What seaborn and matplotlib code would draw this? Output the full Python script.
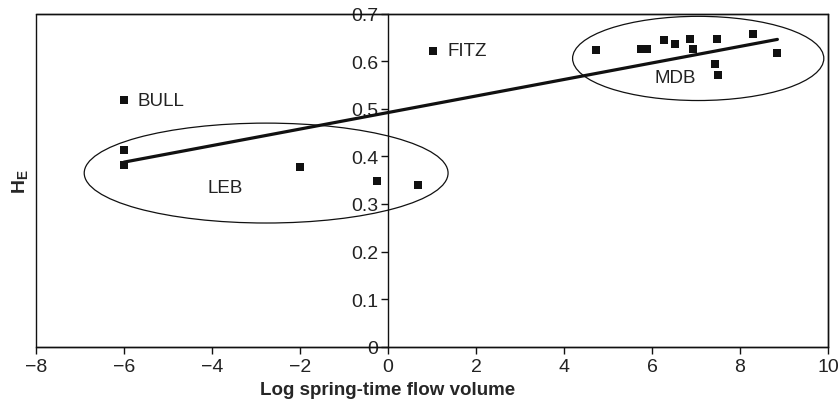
import numpy as np
import pandas as pd
import matplotlib
matplotlib.use("Agg")
import matplotlib.pyplot as plt
from matplotlib.patches import Ellipse, Rectangle
import seaborn as sns

# data: log spring-time flow volume vs H_E
site = ["BULL", "LEB", "LEB", "LEB", "LEB", "LEB", "FITZ"] + ["MDB"] * 12
flow = [-6.0, -6.0, -6.0, -2.0, -0.25, 0.68, 1.02,
        4.73, 5.76, 5.88, 6.27, 6.52, 6.86, 6.93, 7.48, 7.43, 7.51, 8.30, 8.83]
he = [0.519, 0.414, 0.382, 0.378, 0.348, 0.339, 0.622,
      0.623, 0.626, 0.626, 0.645, 0.636, 0.647, 0.626, 0.647, 0.594, 0.571, 0.657, 0.617]

# fitted trend line (end points)
fit_x = [-6.0, 8.85]
fit_y = [0.388, 0.646]

# grouping ellipses
groups = ["LEB", "MDB"]
group_cx = [-2.77, 7.05]
group_cy = [0.365, 0.606]
group_w = [8.27, 5.71]
group_h = [0.210, 0.177]

# text labels
lab_text = ["BULL", "FITZ", "LEB", "MDB"]
lab_x = [-5.70, 1.36, -3.69, 6.53]
lab_y = [0.517, 0.622, 0.334, 0.566]
lab_ha = ["left", "left", "center", "center"]

xticks = [-8, -6, -4, -2, 0, 2, 4, 6, 8, 10]
yticks = [0, 0.1, 0.2, 0.3, 0.4, 0.5, 0.6, 0.7]
ytick_labels = ["0", "0.1", "0.2", "0.3", "0.4", "0.5", "0.6", "0.7"]

df = pd.DataFrame({"site": site, "flow": flow, "he": he})

sns.set_style("white")
plt.rcParams["font.family"] = ["Liberation Sans", "DejaVu Sans"]
plt.rcParams["mathtext.fontset"] = "custom"
plt.rcParams["mathtext.bf"] = "Liberation Sans:bold"
plt.rcParams["mathtext.rm"] = "Liberation Sans"

fig = plt.figure(figsize=(8.4, 4.02), dpi=100)
ax = fig.add_axes([0.0429, 0.1351, 0.9428, 0.8283])

sns.scatterplot(data=df, x="flow", y="he", marker="s", s=34, color="#111111",
                linewidth=0, ax=ax, zorder=3)
sns.lineplot(x=fit_x, y=fit_y, color="#111111", linewidth=2.3, ax=ax, zorder=2)

for cx, cy, w, h in zip(group_cx, group_cy, group_w, group_h):
    ax.add_patch(Ellipse((cx, cy), w, h, fill=False, edgecolor="#111111", linewidth=0.9))

for t, x, y, ha in zip(lab_text, lab_x, lab_y, lab_ha):
    ax.text(x, y, t, ha=ha, va="center", fontsize=13.5, color="#222222")

ax.set_xlim(-8, 10)
ax.set_ylim(0, 0.7)
ax.set_xticks(xticks)
ax.set_yticks(yticks)
ax.set_yticklabels(ytick_labels)

# y axis runs through x = 0, box frame around the plot
for s in ["top", "right", "bottom"]:
    ax.spines[s].set_visible(True)
    ax.spines[s].set_color("#111111")
    ax.spines[s].set_linewidth(1.0)
ax.spines["left"].set_position(("data", 0))
ax.spines["left"].set_color("#111111")
ax.spines["left"].set_linewidth(1.0)
ax.add_patch(Rectangle((0, 0), 1, 1, transform=ax.transAxes, fill=False,
                       edgecolor="#111111", linewidth=1.0, clip_on=False))

ax.tick_params(axis="both", direction="out", length=5, width=1.0, colors="#111111",
               labelsize=14, labelcolor="#222222", pad=2, left=True, bottom=True)
ax.tick_params(axis="x", pad=3)

ax.set_xlabel("Log spring-time flow volume", fontsize=13.5, fontweight="bold")
ax.xaxis.set_label_coords(0.444, -0.103)
ax.set_ylabel(r"$\mathbf{H_E}$", fontsize=14)
ax.yaxis.set_label_coords(-0.008, 0.5)

fig.savefig("out.png", dpi=100)
